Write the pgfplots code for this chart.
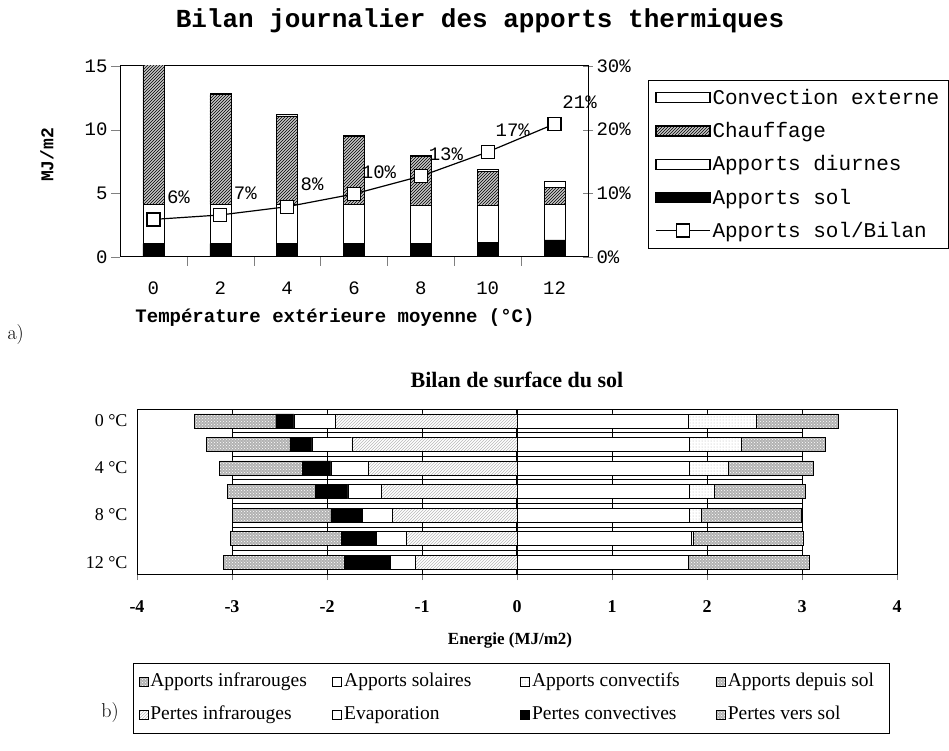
\documentclass[border=0pt]{standalone}
\usepackage{pgfplots}
\pgfplotsset{compat=1.18}
\usepackage{pgfplotstable}
\usepackage{fontspec}
\usetikzlibrary{patterns}
\newfontfamily\cour{Liberation Mono}
\newfontfamily\tnr{Liberation Serif}

% a) bilan journalier, x = index of the temperature 0,2,...,12
\pgfplotstableread{
x sol diur chauf conv
0 1.05 3.10 11.00 0.50
1 1.05 3.10 8.63 0.12
2 1.05 3.10 6.93 0.12
3 1.08 3.05 5.35 0.12
4 1.08 3.02 3.81 0.12
5 1.17 2.93 2.62 0.15
6 1.35 2.80 1.31 0.50
}\bilan

% b) surface du sol, y = 6 for 0 C ... 0 for 12 C
\pgfplotstableread{
y AI AS AC ADS PI EV PC PVS
6 0 1.80 0.72 0.86 -1.91 -0.44 -0.19 -0.86
5 0 1.81 0.55 0.88 -1.74 -0.42 -0.23 -0.88
4 0 1.81 0.41 0.90 -1.57 -0.39 -0.30 -0.87
3 0 1.81 0.27 0.95 -1.43 -0.35 -0.34 -0.93
2 0 1.81 0.13 1.05 -1.31 -0.32 -0.33 -1.04
1 0 1.83 0.02 1.16 -1.17 -0.31 -0.37 -1.17
0 0 1.80 0.00 1.28 -1.07 -0.26 -0.49 -1.27
}\sol

\tikzset{
  chauf/.style={fill=gray!45, postaction={pattern=north east lines}},
  grisdense/.style={fill=gray!60, postaction={pattern=crosshatch dots, pattern color=white}},
  hachclair/.style={fill=white, postaction={pattern=north east lines, pattern color=gray!55}},
  points/.style={fill=white, postaction={pattern=dots, pattern color=gray!60}},
}
\pgfplotsset{
  ligne legend/.style={legend image code/.code={\draw[mark repeat=2, mark phase=2, ##1]
    plot coordinates {(0pt,0pt) (27pt,0pt) (54pt,0pt)};}},
  barre a legend/.style={legend image code/.code={\draw[##1, draw=black, line width=1.2pt] (0pt,-5pt) rectangle (54pt,5pt);}},
  barre b legend/.style={legend image code/.code={\draw[##1, draw=black, line width=0.8pt] (0pt,-4.5pt) rectangle (9pt,4.5pt);}},
}

\begin{document}
\begin{tikzpicture}[x=1pt,y=1pt]
\useasboundingbox (0,0) rectangle (949,750);

%% ---------- a) ----------
\begin{axis}[
  at={(120pt,493pt)}, anchor=south west, scale only axis,
  width=468pt, height=191pt,
  xmin=-0.5, xmax=6.5, ymin=0, ymax=15,
  ybar stacked, bar width=21pt,
  xtick={0,...,6}, xticklabels={0,2,4,6,8,10,12},
  major x tick style={draw=none},
  minor xtick={0.5,1.5,...,5.5},
  ytick={0,5,10,15}, yticklabels={0,5,10,15},
  tick pos=left, tick align=outside,
  major tick length=9pt, minor tick length=9pt,
  tick label style={font=\cour\fontsize{19}{19}\selectfont},
  xticklabel style={yshift=-12pt},
  axis line style={line width=1pt},
  every bar/.append style={draw=black, line width=1.2pt},
]
\addplot[fill=black] table[x=x, y=sol] \bilan;
\addplot[fill=white] table[x=x, y=diur] \bilan;
\addplot[chauf] table[x=x, y=chauf] \bilan;
\addplot[fill=white] table[x=x, y=conv] \bilan;
\end{axis}

\begin{axis}[
  at={(120pt,493pt)}, anchor=south west, scale only axis,
  width=468pt, height=191pt,
  xmin=-0.5, xmax=6.5, ymin=0, ymax=30,
  axis x line=none, axis y line*=right,
  ytick={0,10,20,30}, yticklabels={0\%,10\%,20\%,30\%},
  tick align=center, major tick length=10pt,
  yticklabel style={font=\cour\fontsize{19}{19}\selectfont},
  axis line style={line width=1pt},
  legend style={at={(1.128,0.927)}, anchor=north west,
    font=\cour\fontsize{21}{21}\selectfont, draw=black, line width=0.8pt,
    row sep=12.5pt, inner sep=7pt, cells={anchor=west}},
  barre a legend,
]
\addlegendimage{fill=white}\addlegendentry{Convection externe}
\addlegendimage{chauf}\addlegendentry{Chauffage}
\addlegendimage{fill=white}\addlegendentry{Apports diurnes}
\addlegendimage{fill=black}\addlegendentry{Apports sol}
\addplot[black, line width=1.2pt, mark=square*, mark size=6.5pt,
  mark options={fill=white, line width=1.2pt},
  nodes near coords, point meta=explicit symbolic,
  every node near coord/.append style={font=\cour\fontsize{19}{19}\selectfont,
    anchor=center, xshift=25pt, yshift=22pt},
  ligne legend]
  coordinates {(0,5.9) [6\%] (1,6.6) [7\%] (2,7.9) [8\%] (3,9.9) [10\%]
    (4,12.7) [13\%] (5,16.5) [17\%] (6,20.9) [21\%]};
\addlegendentry{Apports sol/Bilan}
\end{axis}

\node[font=\cour\bfseries\fontsize{26}{26}\selectfont] at (480,729) {Bilan journalier des apports thermiques};
\node[font=\cour\bfseries\fontsize{19}{19}\selectfont] at (335,432) {Température extérieure moyenne (°C)};
\node[rotate=90, font=\cour\bfseries\fontsize{18}{18}\selectfont] at (47,595) {MJ/m2};
\node[anchor=west, font=\fontsize{20}{20}\selectfont] at (4,415) {a)};

%% ---------- b) ----------
\begin{axis}[
  at={(137pt,176pt)}, anchor=south west, scale only axis,
  width=760pt, height=165pt,
  xmin=-4, xmax=4, ymin=-0.5, ymax=6.5,
  xbar stacked, bar width=14pt,
  xtick={-4,...,4}, xticklabels={-4,-3,-2,-1,0,1,2,3,4},
  ytick={0,2,4,6}, yticklabels={12 °C,8 °C,4 °C,0 °C},
  major y tick style={draw=none},
  xmajorgrids, grid style={black, line width=0.6pt},
  tick pos=left, tick align=outside, major tick length=6pt,
  xticklabel style={font=\tnr\bfseries\fontsize{18}{18}\selectfont, yshift=-17pt},
  yticklabel style={font=\tnr\fontsize{18}{18}\selectfont},
  axis line style={line width=0.8pt},
  every bar/.append style={draw=black, line width=1.2pt},
]
\pgfplotsinvokeforeach{0.5,1.5,2.5,3.5,4.5,5.5}{
  \draw[black, line width=0.6pt] (axis cs:-3,#1) -- (axis cs:3,#1);
}
\addplot[grisdense] table[x=AI, y=y] \sol;
\addplot[fill=white] table[x=AS, y=y] \sol;
\addplot[points] table[x=AC, y=y] \sol;
\addplot[grisdense] table[x=ADS, y=y] \sol;
\end{axis}

\begin{axis}[
  at={(137pt,176pt)}, anchor=south west, scale only axis,
  width=760pt, height=165pt,
  xmin=-4, xmax=4, ymin=-0.5, ymax=6.5,
  xbar stacked, bar width=14pt, hide axis,
  every bar/.append style={draw=black, line width=1.2pt},
  legend columns=4,
  legend style={at={(-0.005,-0.539)}, anchor=north west,
    font=\tnr\fontsize{19.5}{19.5}\selectfont, draw=black, line width=0.8pt,
    row sep=12pt, inner xsep=5pt, inner ysep=8pt, cells={anchor=west},
    nodes={text height=13pt, text depth=4pt}},
  barre b legend,
]
\addlegendimage{grisdense}\addlegendentry{\makebox[180pt][l]{Apports infrarouges}}
\addlegendimage{fill=white}\addlegendentry{\makebox[174pt][l]{Apports solaires}}
\addlegendimage{points}\addlegendentry{\makebox[182pt][l]{Apports convectifs}}
\addlegendimage{grisdense}\addlegendentry{\makebox[155pt][l]{Apports depuis sol}}
\addplot[hachclair] table[x=PI, y=y] \sol;
\addlegendentry{Pertes infrarouges}
\addplot[fill=white] table[x=EV, y=y] \sol;
\addlegendentry{Evaporation}
\addplot[fill=black] table[x=PC, y=y] \sol;
\addlegendentry{Pertes convectives}
\addplot[grisdense] table[x=PVS, y=y] \sol;
\addlegendentry{Pertes vers sol}
\draw[line width=2.5pt] (axis cs:0,-0.5) -- (axis cs:0,6.5);
\end{axis}

\node[font=\tnr\bfseries\fontsize{22}{22}\selectfont] at (517,370) {Bilan de surface du sol};
\node[font=\tnr\bfseries\fontsize{17}{17}\selectfont] at (510,110) {Energie (MJ/m2)};
\node[font=\fontsize{20}{20}\selectfont] at (110,37) {b)};
\end{tikzpicture}
\end{document}
